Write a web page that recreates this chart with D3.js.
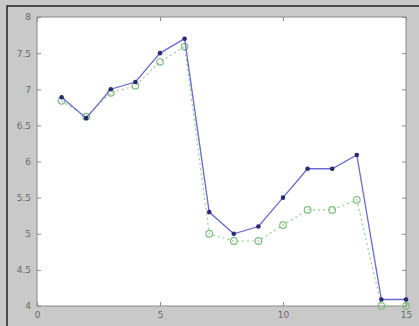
<!DOCTYPE html>
<html>
<head>
<meta charset="utf-8">
<script src="https://cdn.jsdelivr.net/npm/d3@7"></script>
<style>
  body { margin: 0; background: #ffffff; }
  svg { display: block; }
</style>
</head>
<body>
<script>
const xValues = [1, 2, 3, 4, 5, 6, 7, 8, 9, 10, 11, 12, 13, 14, 15];
const blueValues = [6.89, 6.6, 7.0, 7.1, 7.5, 7.7, 5.3, 5.0, 5.1, 5.5, 5.9, 5.9, 6.09, 4.09, 4.09];
const greenValues = [6.84, 6.62, 6.95, 7.05, 7.38, 7.59, 5.0, 4.9, 4.9, 5.12, 5.33, 5.33, 5.47, 4.0, 4.0];
const xTicks = [0, 5, 10, 15];
const yTicks = [4, 4.5, 5, 5.5, 6, 6.5, 7, 7.5, 8];

const width = 419;
const height = 326;
const plot = { left: 37, top: 17, right: 406, bottom: 306 };

const svg = d3.select("body")
    .append("svg")
    .attr("width", width)
    .attr("height", height);

// grey figure background with frame on top and left
svg.append("rect")
    .attr("width", width)
    .attr("height", height)
    .attr("fill", "#c9c9c9");
svg.append("path")
    .attr("d", `M7,${height} L7,6 L${width},6`)
    .attr("fill", "none")
    .attr("stroke", "#222")
    .attr("stroke-width", 1.5);

const x = d3.scaleLinear().domain([0, 15]).range([plot.left, plot.right]);
const y = d3.scaleLinear().domain([4, 8]).range([plot.bottom, plot.top]);

svg.append("rect")
    .attr("x", plot.left)
    .attr("y", plot.top)
    .attr("width", plot.right - plot.left)
    .attr("height", plot.bottom - plot.top)
    .attr("fill", "#ffffff")
    .attr("stroke", "#8a8a8a")
    .attr("stroke-width", 1);

const styleAxis = g => {
    g.select(".domain").remove();
    g.selectAll(".tick line").attr("stroke", "#8a8a8a");
    g.selectAll(".tick text")
        .attr("fill", "#6a6a6a")
        .style("font-family", "DejaVu Sans, sans-serif")
        .style("font-size", "9px");
};

const fmt = d3.format("~g");

svg.append("g")
    .attr("transform", `translate(0,${plot.bottom})`)
    .call(d3.axisBottom(x).tickValues(xTicks).tickFormat(fmt).tickSizeInner(-4).tickSizeOuter(0).tickPadding(6))
    .call(styleAxis);
svg.append("g")
    .attr("transform", `translate(0,${plot.top})`)
    .call(d3.axisTop(x).tickValues(xTicks).tickSizeInner(-4).tickSizeOuter(0).tickFormat(""))
    .call(styleAxis);
svg.append("g")
    .attr("transform", `translate(${plot.left},0)`)
    .call(d3.axisLeft(y).tickValues(yTicks).tickFormat(fmt).tickSizeInner(-4).tickSizeOuter(0).tickPadding(6))
    .call(styleAxis);
svg.append("g")
    .attr("transform", `translate(${plot.right},0)`)
    .call(d3.axisRight(y).tickValues(yTicks).tickSizeInner(-4).tickSizeOuter(0).tickFormat(""))
    .call(styleAxis);

const line = d3.line()
    .x((d, i) => x(xValues[i]))
    .y(d => y(d));

svg.append("path")
    .datum(greenValues)
    .attr("d", line)
    .attr("fill", "none")
    .attr("stroke", "#8fcf8f")
    .attr("stroke-width", 1.2)
    .attr("stroke-dasharray", "2,3");

svg.selectAll(".green")
    .data(greenValues)
    .enter()
    .append("circle")
    .attr("class", "green")
    .attr("cx", (d, i) => x(xValues[i]))
    .attr("cy", d => y(d))
    .attr("r", 3.3)
    .attr("fill", "none")
    .attr("stroke", "#7fbf7f")
    .attr("stroke-width", 1.2);

svg.append("path")
    .datum(blueValues)
    .attr("d", line)
    .attr("fill", "none")
    .attr("stroke", "#6a6ad0")
    .attr("stroke-width", 1.3);

svg.selectAll(".blue")
    .data(blueValues)
    .enter()
    .append("circle")
    .attr("class", "blue")
    .attr("cx", (d, i) => x(xValues[i]))
    .attr("cy", d => y(d))
    .attr("r", 2.3)
    .attr("fill", "#2a2a70");
</script>
</body>
</html>
